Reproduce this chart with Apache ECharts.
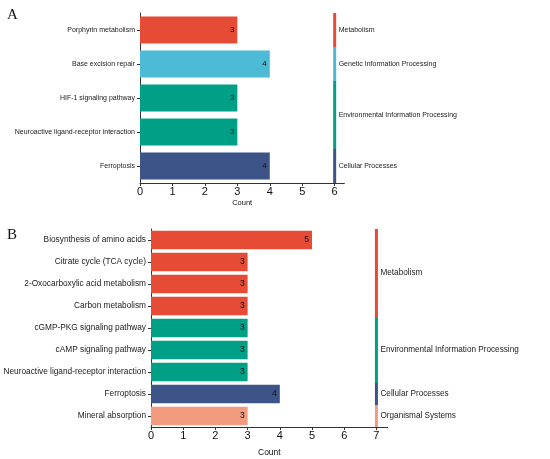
<!DOCTYPE html>
<html>
<head>
<meta charset="utf-8">
<script src="https://cdn.jsdelivr.net/npm/echarts@6/dist/echarts.min.js"></script>
<style>
    html, body { margin: 0; padding: 0; background: #fff; }
    #chart { width: 550px; height: 459px; }
</style>
</head>
<body>
<div id="chart"></div>
<script>
// 面板 A 数据
const pathwaysA = ['Porphyrin metabolism', 'Base excision repair', 'HIF-1 signaling pathway',
    'Neuroactive ligand-receptor interaction', 'Ferroptosis'];
const countsA = [3, 4, 3, 3, 4];
const classesA = ['Metabolism', 'Genetic Information Processing', 'Environmental Information Processing',
    'Environmental Information Processing', 'Cellular Processes'];
const ticksA = [0, 1, 2, 3, 4, 5, 6];

// 面板 B 数据
const pathwaysB = ['Biosynthesis of amino acids', 'Citrate cycle (TCA cycle)', '2-Oxocarboxylic acid metabolism',
    'Carbon metabolism', 'cGMP-PKG signaling pathway', 'cAMP signaling pathway',
    'Neuroactive ligand-receptor interaction', 'Ferroptosis', 'Mineral absorption'];
const countsB = [5, 3, 3, 3, 3, 3, 3, 4, 3];
const classesB = ['Metabolism', 'Metabolism', 'Metabolism', 'Metabolism',
    'Environmental Information Processing', 'Environmental Information Processing',
    'Environmental Information Processing', 'Cellular Processes', 'Organismal Systems'];
const ticksB = [0, 1, 2, 3, 4, 5, 6, 7];

// 分类颜色
const classColors = {
    'Metabolism': '#E64B35',
    'Genetic Information Processing': '#4DBBD5',
    'Environmental Information Processing': '#00A087',
    'Cellular Processes': '#3C5488',
    'Organismal Systems': '#F39B7F'
};

const FONT = '"Liberation Sans", Arial, sans-serif';

// 把连续相同的分类合并成分组 [起始索引, 结束索引, 名称]
function groupRuns(classes) {
    const runs = [];
    classes.forEach((c, i) => {
        const last = runs[runs.length - 1];
        if (last && last[2] === c) last[1] = i;
        else runs.push([i, i, c]);
    });
    return runs;
}

// 右侧分类色条 + 文字
function makeStrip(runs, stripAt, gridIndex, fontSize) {
    return {
        type: 'custom',
        xAxisIndex: gridIndex,
        yAxisIndex: gridIndex,
        clip: false,
        silent: true,
        encode: { x: 0, y: 1 },
        data: runs.map(r => ({ value: [stripAt, r[0], r[1]], name: r[2] })),
        renderItem: function (params, api) {
            const run = runs[params.dataIndex];
            const p0 = api.coord([stripAt, run[0]]);
            const p1 = api.coord([stripAt, run[1]]);
            const band = api.size([0, 1])[1];
            const y0 = Math.min(p0[1], p1[1]) - band / 2;
            const y1 = Math.max(p0[1], p1[1]) + band / 2;
            return {
                type: 'group',
                children: [{
                    type: 'rect',
                    shape: { x: p0[0] - 1.5, y: y0, width: 3, height: y1 - y0 },
                    style: { fill: classColors[run[2]] }
                }, {
                    type: 'text',
                    x: p0[0] + 4,
                    y: (y0 + y1) / 2,
                    style: {
                        text: run[2], fill: '#222', fontSize: fontSize, fontFamily: FONT,
                        verticalAlign: 'middle', align: 'left'
                    }
                }]
            };
        }
    };
}

function makeBars(pathways, counts, classes, gridIndex, fontSize, gap) {
    return {
        type: 'bar',
        xAxisIndex: gridIndex,
        yAxisIndex: gridIndex,
        barCategoryGap: gap,
        data: counts.map((v, i) => ({
            value: v,
            itemStyle: { color: classColors[classes[i]] }
        })),
        label: {
            show: true, position: 'insideRight', distance: 3,
            color: '#111', fontSize: fontSize, fontFamily: FONT
        }
    };
}

function makeXAxis(gridIndex, max, ticks, labelSize, nameSize, nameGap) {
    return {
        type: 'value', gridIndex: gridIndex, min: 0, max: max,
        splitLine: { show: false },
        axisLine: { show: true, lineStyle: { color: '#333', width: 1 } },
        axisTick: { show: true, length: 3, customValues: ticks, lineStyle: { color: '#333' } },
        axisLabel: { customValues: ticks, fontSize: labelSize, color: '#111', margin: 3, fontFamily: FONT },
        name: 'Count', nameLocation: 'middle', nameGap: nameGap,
        nameTextStyle: { fontSize: nameSize, color: '#111', fontFamily: FONT }
    };
}

function makeYAxis(gridIndex, pathways, labelSize) {
    return {
        type: 'category', gridIndex: gridIndex, data: pathways, inverse: true,
        axisLine: { show: true, lineStyle: { color: '#333', width: 1 } },
        axisTick: { show: true, length: 3, alignWithLabel: true, lineStyle: { color: '#333' } },
        axisLabel: { fontSize: labelSize, color: '#222', margin: 5, fontFamily: FONT }
    };
}

const chart = echarts.init(document.getElementById('chart'), null, { renderer: 'canvas' });

chart.setOption({
    animation: false,
    backgroundColor: '#fff',
    title: [
        { text: 'A', left: 2, top: 3, textStyle: { fontFamily: '"Liberation Serif", serif', fontWeight: 'normal', fontSize: 15, color: '#111' } },
        { text: 'B', left: 2, top: 223, textStyle: { fontFamily: '"Liberation Serif", serif', fontWeight: 'normal', fontSize: 15, color: '#111' } }
    ],
    grid: [
        { left: 140, top: 13, width: 204.4, height: 170 },
        { left: 151, top: 229, width: 236.7, height: 198 }
    ],
    xAxis: [
        makeXAxis(0, 6.3, ticksA, 11, 7.5, 16),
        makeXAxis(1, 7.35, ticksB, 11, 8.5, 21)
    ],
    yAxis: [
        makeYAxis(0, pathwaysA, 7),
        makeYAxis(1, pathwaysB, 8.3)
    ],
    series: [
        makeBars(pathwaysA, countsA, classesA, 0, 8, '20%'),
        makeStrip(groupRuns(classesA), 6, 0, 7),
        makeBars(pathwaysB, countsB, classesB, 1, 8.5, '16%'),
        makeStrip(groupRuns(classesB), 7, 1, 8.2)
    ]
});
</script>
</body>
</html>
